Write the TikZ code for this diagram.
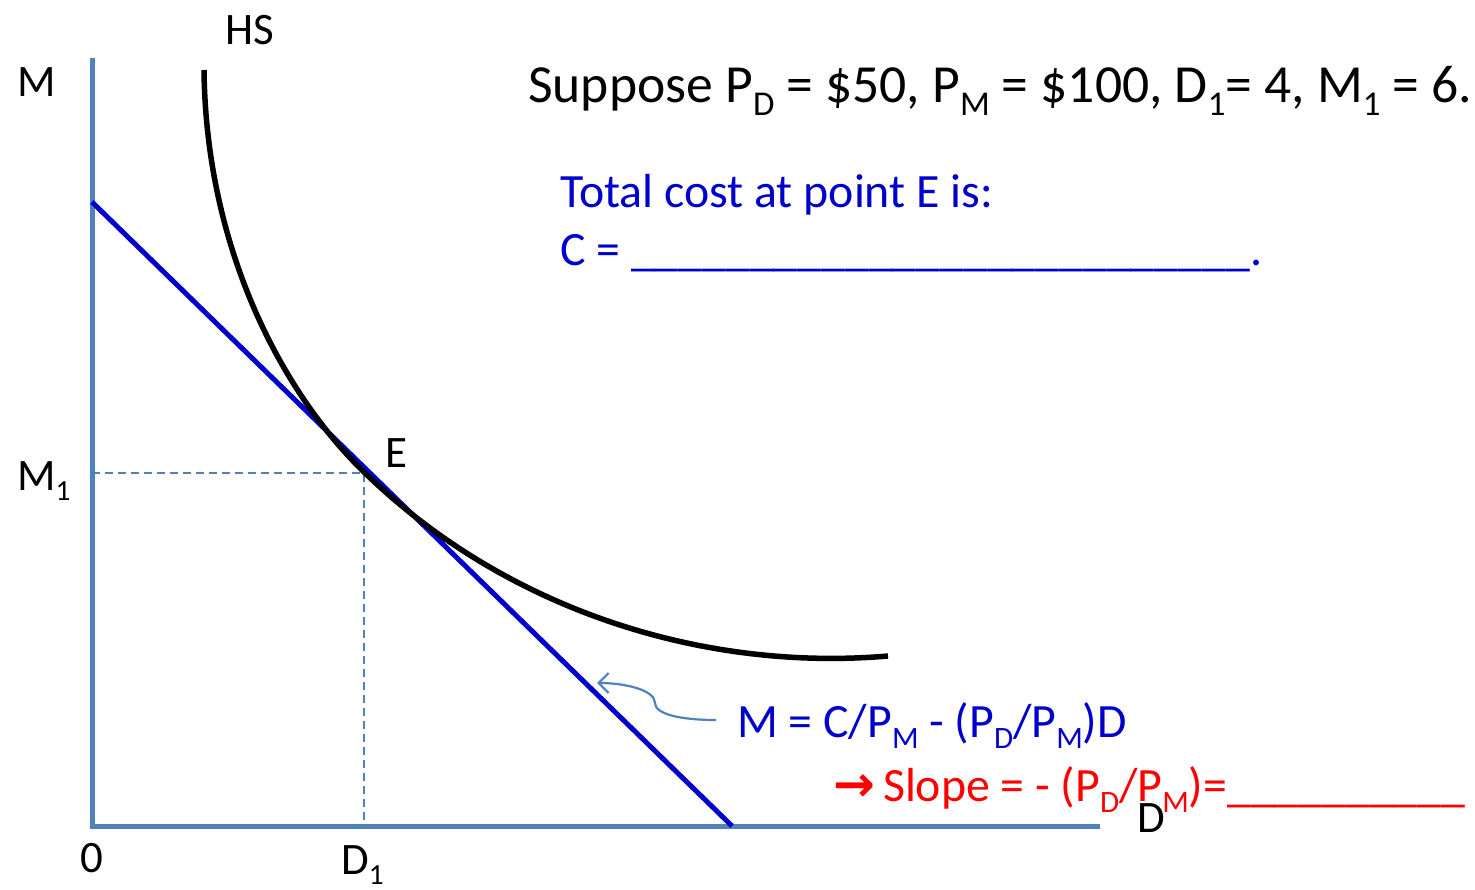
\documentclass[tikz,border=0pt]{standalone}
\usepackage{fontspec}
\setmainfont{Carlito}
\newfontfamily\arrowfont{DejaVu Sans}
\usetikzlibrary{arrows.meta}
\definecolor{axisblue}{RGB}{79,129,189}
\definecolor{lineblue}{RGB}{0,0,204}
\newcommand{\sbs}[1]{\raisebox{-0.24em}{\scalebox{0.65}{#1}}}
\newcommand{\uf}{\textunderscore\textunderscore\textunderscore\textunderscore\textunderscore}
\tikzset{
  lab/.style={inner sep=0pt, anchor=base west, font=\fontsize{45}{54}\selectfont},
  bigtxt/.style={inner sep=0pt, anchor=base west, font=\fontsize{53.6}{64}\selectfont},
  bluetxt/.style={inner sep=0pt, anchor=base west, text=lineblue, font=\fontsize{47.8}{56}\selectfont},
  redtxt/.style={inner sep=0pt, anchor=base west, text=red, font=\fontsize{47.8}{56}\selectfont},
  axis/.style={draw=axisblue, line width=5pt},
  guide/.style={draw=axisblue, line width=2pt, dash pattern=on 8pt off 5pt},
  budget/.style={draw=lineblue, line width=5pt},
  hs/.style={draw=black, line width=5.5pt},
  pointer/.style={draw=axisblue, line width=2.2pt, -{Straight Barb[length=10pt, width=20pt, line width=2.2pt]}}
}
\begin{document}
\begin{tikzpicture}[x=1pt, y=-1pt]
\useasboundingbox (0,0) rectangle (1475,890);
% axes
\coordinate (top) at (92,58);
\coordinate (orig) at (92,826);
\coordinate (right) at (1100,826);
\draw[axis] (top) -- (orig) -- (right);
% budget line
\coordinate (bM) at (92,202);
\coordinate (bD) at (732,826);
\draw[budget] (bM) -- (bD);
% E point and guides
\coordinate (E) at (364,473);
\coordinate (EM) at (92,473);
\coordinate (ED) at (364,826);
\draw[guide] (EM) -- (E) -- (ED);
% HS curve
\coordinate (hsA) at (204,70);
\coordinate (hsE) at (363,471);
\coordinate (hsB) at (888,656);
\draw[hs] (hsA) .. controls (206,250) and (283,393) .. (hsE)
               .. controls (503,608) and (700,672) .. (hsB);
% labels
\node[lab] (lM) at (17,97) {M};
\node[lab] (lHS) at (225,45) {HS};
\node[lab] (lM1) at (17,490) {M\sbs{1}};
\node[lab] (lE) at (385,467) {E};
\node[lab] (l0) at (80,872) {0};
\node[lab] (lD1) at (341,874) {D\sbs{1}};
\node[lab] (lD) at (1137,832) {D};
% texts
\node[bigtxt] (sup) at (528,103) {Suppose P\sbs{D} = \$50, P\sbs{M} = \$100, D\sbs{1}= 4, M\sbs{1} = 6.};
\node[bluetxt] (tc) at (560,208) {Total cost at point E is:};
\node[bluetxt] (ceq) at (560,266) {C = \uf\uf\uf\uf\uf\textunderscore.};
\node[bluetxt] (eq) at (737,737) {M = C/P\sbs{M} - (P\sbs{D}/P\sbs{M})D};
\node[redtxt] (slope) at (833,801) {{\arrowfont\bfseries\fontsize{50}{56}\selectfont →}\,Slope = - (P\sbs{D}/P\sbs{M})=\uf\uf};
% pointer
\coordinate (ps) at (716,720);
\coordinate (ptr) at (597,683);
\draw[pointer] (ps) .. controls (680,720) and (655,714) .. (655,703) .. controls (655,690) and (625,683) .. (ptr);
\end{tikzpicture}
\end{document}
